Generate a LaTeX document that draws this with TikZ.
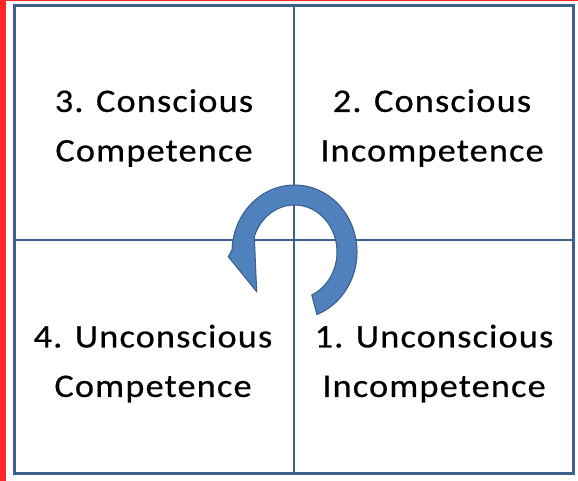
\documentclass[tikz,border=0pt]{standalone}
\usepackage{fontspec}
\setmainfont[FakeStretch=1.1, LetterSpace=3.5, FakeBold=0.5]{Carlito}
\usepackage{tikz}
\usetikzlibrary{calc, positioning}
\definecolor{gridblue}{RGB}{62,96,140}
\definecolor{arrowblue}{RGB}{79,129,189}
\definecolor{arrowedge}{RGB}{56,93,138}
\definecolor{sidered}{RGB}{255,40,40}

\begin{document}
\begin{tikzpicture}[x=1pt, y=-1pt,
    stage/.style={align=center, inner sep=0pt,
                  font=\fontsize{33}{49.5}\selectfont}]
\useasboundingbox (0,0) rectangle (578,481);
\fill[white] (0,0) rectangle (578,481);
\fill[sidered] (0,0) rectangle (6,481);
\fill[sidered] (0,0) rectangle (578,1.2);
%
\coordinate (nw) at (14.5,5.5);
\coordinate (se) at (573.5,473.5);
\coordinate (mid) at (293.5,240);

\draw[gridblue, line width=2pt] (mid |- nw) -- (mid |- se);
\draw[gridblue, line width=2pt] (mid -| nw) -- (mid -| se);
\draw[gridblue, line width=3pt] (nw) rectangle (se);

% the turning arrow
\coordinate (c) at (294.5,252);
\filldraw[fill=arrowblue, draw=arrowedge, line width=1pt]
  (c) ++(69:62.5 and 67)
      arc[start angle=69, end angle=-178, x radius=62.5, y radius=67]
  -- (228.3,256.7) -- (256.7,291.7)
  -- ($(c)+(-161:42.5 and 47)$)
      arc[start angle=-161, end angle=66, x radius=42.5, y radius=47]
  -- cycle;

\node[stage] (conscomp)     at (154,128)   {3. Conscious\\Competence};
\node[stage] (consincomp)   at (432,128)   {2. Conscious\\Incompetence};
\node[stage] (unconscomp)   at (153,363.5) {4. Unconscious\\Competence};
\node[stage] (unconsincomp) at (434,363.5) {1. Unconscious\\Incompetence};
%
\end{tikzpicture}
\end{document}
